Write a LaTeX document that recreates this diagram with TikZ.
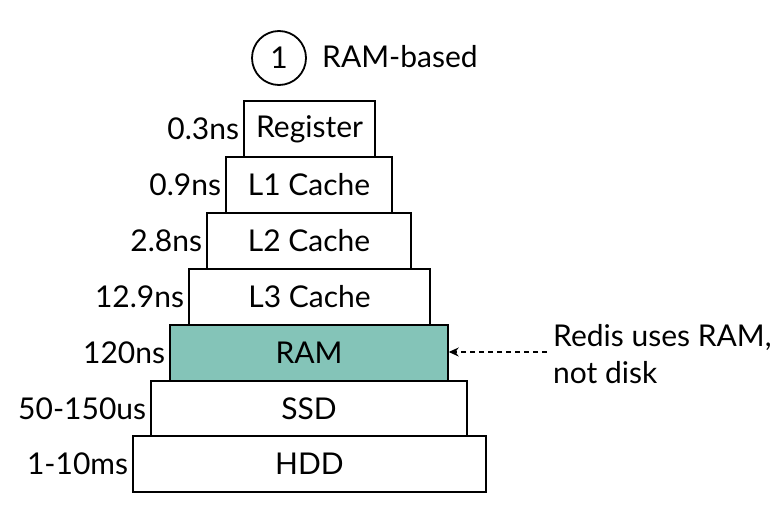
\documentclass[tikz,border=0pt]{standalone}
\usepackage{fontspec}
\setmainfont{Lato}
\usetikzlibrary{arrows.meta}
\definecolor{ramfill}{HTML}{84C4B8}
\begin{document}
\begin{tikzpicture}[x=1pt,y=-1pt,
  txt/.style={font=\fontsize{30}{37}\selectfont},
  layer/.style={txt,draw=black,line width=1.4pt,minimum height=56pt,inner sep=0pt},
  lat/.style={txt,anchor=east,inner sep=0pt},
  note/.style={txt,anchor=west,inner sep=0pt,align=left}]
\useasboundingbox (0,0) rectangle (783,511);
\node[layer,minimum width=131pt] (reg) at (309.5,129) {Register};
\node[layer,minimum width=166pt] (l1) at (309,185) {L1 Cache};
\node[layer,minimum width=204pt] (l2) at (309,241) {L2 Cache};
\node[layer,minimum width=241pt] (l3) at (309.5,297) {L3 Cache};
\node[layer,minimum width=278pt,fill=ramfill] (ram) at (309,353) {RAM};
\node[layer,minimum width=316pt,minimum height=55pt] (ssd) at (309,408.5) {SSD};
\node[layer,minimum width=353pt] (hdd) at (309.5,464) {HDD};
\node[lat] (treg) at ([xshift=-4pt]reg.west) {0.3ns};
\node[lat] (tl1) at ([xshift=-4pt]l1.west) {0.9ns};
\node[lat] (tl2) at ([xshift=-4pt]l2.west) {2.8ns};
\node[lat] (tl3) at ([xshift=-4pt]l3.west) {12.9ns};
\node[lat] (tram) at ([xshift=-4pt]ram.west) {120ns};
\node[lat] (tssd) at ([xshift=-4pt]ssd.west) {50-150us};
\node[lat] (thdd) at ([xshift=-4pt]hdd.west) {1-10ms};
\node[txt,draw=black,line width=1.8pt,circle,minimum size=54pt,inner sep=0pt] (one) at (279,58) {1};
\node[note] (rb) at (322,57) {RAM-based};
\node[note] (redis) at (553,354) {Redis uses RAM,\\not disk};
\coordinate (arrstart) at (547,352);
\draw[line width=1.2pt,dashed,dash pattern=on 5pt off 4pt,-{Stealth[length=10pt,width=9pt]}] (arrstart) -- (ram.east |- arrstart);
\end{tikzpicture}
\end{document}
